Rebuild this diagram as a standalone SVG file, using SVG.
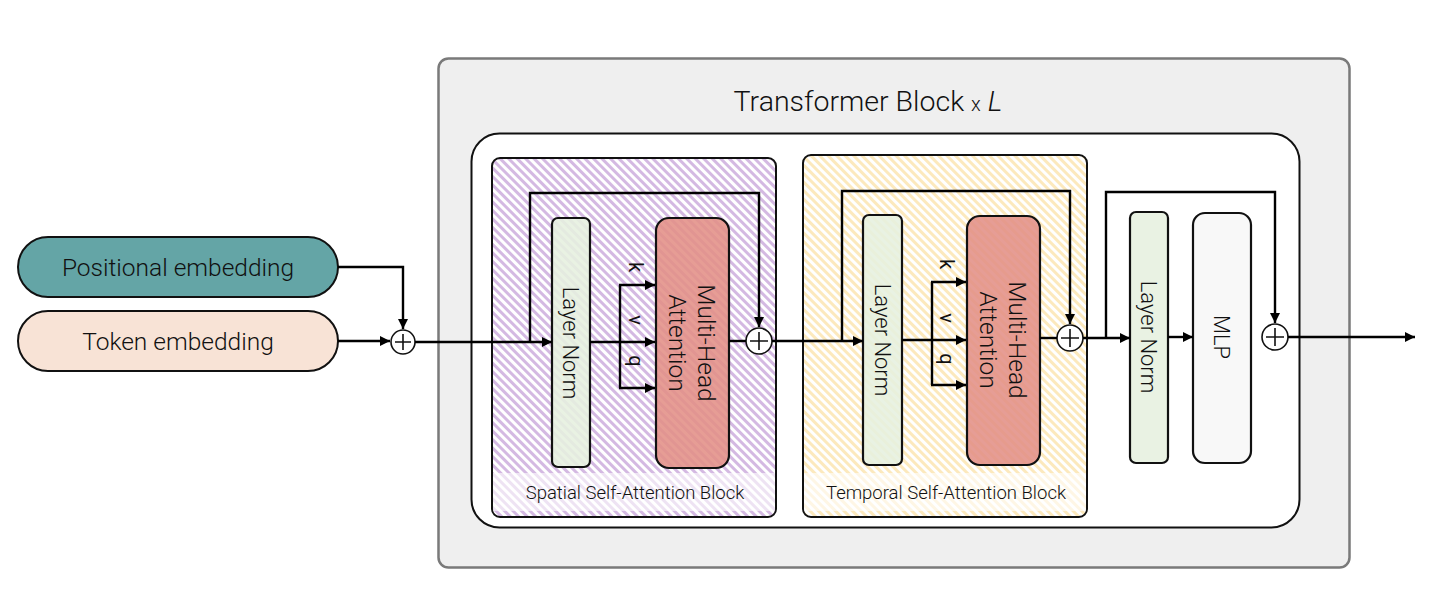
<svg xmlns="http://www.w3.org/2000/svg" width="1446" height="614" viewBox="0 0 1446 614">
<defs>
<pattern id="hatchP" patternUnits="userSpaceOnUse" width="6" height="6" patternTransform="rotate(-45)">
<rect width="6" height="6" fill="#ffffff"/>
<rect width="3" height="6" fill="#d4b9e2"/>
</pattern>
<pattern id="hatchY" patternUnits="userSpaceOnUse" width="6" height="6" patternTransform="rotate(-45)">
<rect width="6" height="6" fill="#ffffff"/>
<rect width="3" height="6" fill="#fce9bd"/>
</pattern>
<marker id="arr" viewBox="0 0 10 10" refX="10" refY="5" markerWidth="12" markerHeight="10" markerUnits="userSpaceOnUse" orient="auto">
<path d="M0,0 L10,5 L0,10 z" fill="#000"/>
</marker>
<style>
text{font-family:Roboto,"Liberation Sans",sans-serif;font-weight:300;fill:#111;}
.kvq{font-weight:400;font-size:20px;}
.ln{fill:#e6f0df;fill-opacity:0.88;stroke:#111;stroke-width:2.2;}
.mha{fill:#e28f86;fill-opacity:0.88;stroke:#111;stroke-width:2.2;}
.mlp{fill:#f8f8f8;stroke:#111;stroke-width:2.2;}
.c{fill:none;stroke:#000;stroke-width:2.4;}
.a{fill:none;stroke:#000;stroke-width:2.4;marker-end:url(#arr);}
.plus{fill:#fff;stroke:#111;stroke-width:1.6;}
.pl{stroke:#111;stroke-width:1.6;}
.band{fill:#fff;fill-opacity:0.6;}
</style>
</defs>

<g id="transformer-block">
<rect x="438.5" y="58.5" width="911" height="509" rx="10" fill="#efefef" stroke="#7a7a7a" stroke-width="2.5"/>
<text x="868" y="111" font-size="28.5" text-anchor="middle">Transformer Block <tspan font-size="20">x</tspan> <tspan font-style="italic">L</tspan></text>
<rect x="471.5" y="133.5" width="828" height="394" rx="28" fill="#fff" stroke="#111" stroke-width="2"/>
</g>

<g id="spatial-block">
<rect x="492" y="158" width="284" height="359" rx="8" fill="url(#hatchP)" stroke="#111" stroke-width="2"/>
<rect x="493" y="473" width="282" height="38" class="band"/>
<text x="635" y="499" font-size="18.5" text-anchor="middle">Spatial Self-Attention Block</text>
</g>
<g id="spatial-layernorm">
<rect x="552" y="218" width="38" height="249" rx="6" class="ln"/>
<text transform="translate(571,343) rotate(90)" font-size="22" text-anchor="middle" dy="8">Layer Norm</text>
</g>
<g id="spatial-mha">
<rect x="656" y="218" width="73" height="250" rx="13" class="mha"/>
<text transform="translate(692,343) rotate(90)" font-size="24.5" text-anchor="middle"><tspan x="0" y="-6">Multi-Head</tspan><tspan x="0" y="23">Attention</tspan></text>
</g>
<g id="spatial-plus">
<circle cx="759" cy="341" r="13" class="plus"/>
<path d="M750,341 H768 M759,332 V350" class="pl"/>
</g>

<g id="temporal-block">
<rect x="803" y="155" width="284" height="362" rx="8" fill="url(#hatchY)" stroke="#111" stroke-width="2"/>
<rect x="804" y="473" width="282" height="38" class="band"/>
<text x="946" y="499" font-size="18.5" text-anchor="middle">Temporal Self-Attention Block</text>
</g>
<g id="temporal-layernorm">
<rect x="863" y="215" width="39" height="250" rx="6" class="ln"/>
<text transform="translate(882.5,340) rotate(90)" font-size="22" text-anchor="middle" dy="8">Layer Norm</text>
</g>
<g id="temporal-mha">
<rect x="967" y="216" width="73" height="249" rx="13" class="mha"/>
<text transform="translate(1003,340) rotate(90)" font-size="24.5" text-anchor="middle"><tspan x="0" y="-6">Multi-Head</tspan><tspan x="0" y="23">Attention</tspan></text>
</g>
<g id="temporal-plus">
<circle cx="1070" cy="338" r="13" class="plus"/>
<path d="M1061,338 H1079 M1070,329 V347" class="pl"/>
</g>

<g id="mlp-layernorm">
<rect x="1130" y="212" width="38" height="251" rx="6" class="ln"/>
<text transform="translate(1149,337) rotate(90)" font-size="22" text-anchor="middle" dy="8">Layer Norm</text>
</g>
<g id="mlp">
<rect x="1193" y="213" width="58" height="250" rx="12" class="mlp"/>
<text transform="translate(1222,337) rotate(90)" font-size="22" text-anchor="middle" dy="8">MLP</text>
</g>
<g id="mlp-plus">
<circle cx="1275" cy="337" r="13" class="plus"/>
<path d="M1266,337 H1284 M1275,328 V346" class="pl"/>
</g>

<g id="positional-embedding">
<rect x="18" y="237" width="320" height="60" rx="30" fill="#64a5a6" stroke="#111" stroke-width="2"/>
<text x="178" y="276" font-size="24.5" text-anchor="middle">Positional embedding</text>
</g>
<g id="token-embedding">
<rect x="18" y="311" width="320" height="60" rx="30" fill="#f8e3d6" stroke="#111" stroke-width="2"/>
<text x="178" y="350" font-size="24.5" text-anchor="middle">Token embedding</text>
</g>
<g id="input-plus">
<circle cx="403" cy="342" r="12" class="plus"/>
<path d="M395,342 H411 M403,334 V350" class="pl"/>
</g>

<g id="connectors">
<path d="M338,267 H403 V329" class="a"/>
<path d="M338,341 H390" class="a"/>
<path d="M415,342 H552" class="a"/>
<path d="M530,342 V193 H759 V327" class="a"/>
<path d="M590,342 H655" class="a"/>
<path d="M620,285 V388" class="c"/>
<path d="M619,285 H655" class="a"/>
<path d="M619,388 H655" class="a"/>
<path d="M729,341 H746" class="c"/>
<path d="M772,341 H863" class="a"/>
<path d="M842,341 V191 H1070 V324" class="a"/>
<path d="M902,340 H966" class="a"/>
<path d="M932,282 V385" class="c"/>
<path d="M931,282 H966" class="a"/>
<path d="M931,385 H966" class="a"/>
<path d="M1040,338 H1057" class="c"/>
<path d="M1083,338 H1130" class="a"/>
<path d="M1106,338 V192 H1275 V323" class="a"/>
<path d="M1168,337 H1193" class="a"/>
<path d="M1288,337 H1415" class="a"/>
</g>
<g id="qkv-labels">
<text class="kvq" transform="translate(635,267) rotate(90)" text-anchor="middle" dy="6">k</text>
<text class="kvq" transform="translate(635,320) rotate(90)" text-anchor="middle" dy="6">v</text>
<text class="kvq" transform="translate(635,361) rotate(90)" text-anchor="middle" dy="6">q</text>
<text class="kvq" transform="translate(946,264) rotate(90)" text-anchor="middle" dy="6">k</text>
<text class="kvq" transform="translate(946,318) rotate(90)" text-anchor="middle" dy="6">v</text>
<text class="kvq" transform="translate(946,359) rotate(90)" text-anchor="middle" dy="6">q</text>
</g>
</svg>
